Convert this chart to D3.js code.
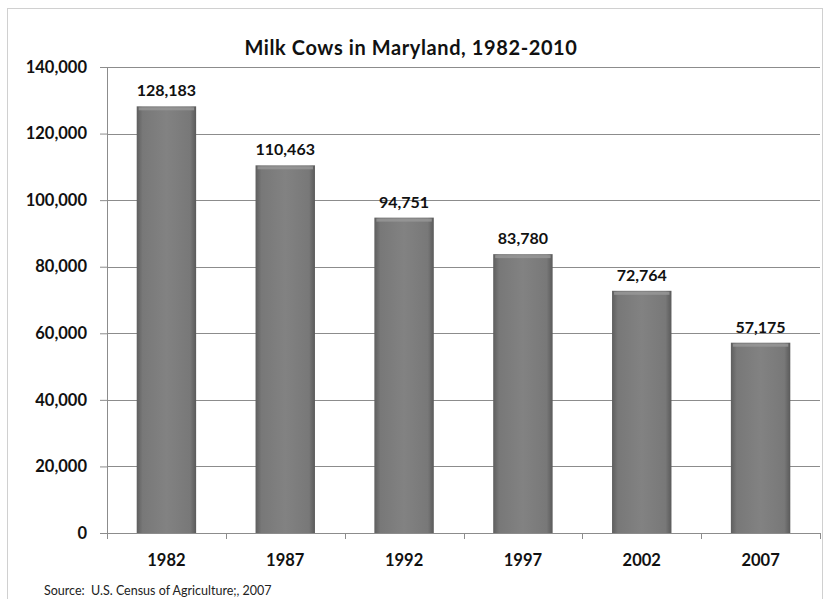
<!DOCTYPE html>
<html>
<head>
<meta charset="utf-8">
<script src="https://cdn.jsdelivr.net/npm/d3@7"></script>
<style>
  body { margin: 0; background: #fff; }
  text { font-family: Lato, "Open Sans", sans-serif; }
</style>
</head>
<body>
<div id="chart"></div>
<script>
const years = ['1982', '1987', '1992', '1997', '2002', '2007'];
const cows = [128183, 110463, 94751, 83780, 72764, 57175];
const yTicks = [0, 20000, 40000, 60000, 80000, 100000, 120000, 140000];

const width = 830, height = 599;
const margin = { top: 67, right: 10, bottom: 66, left: 107 };
const innerW = width - margin.left - margin.right;
const innerH = height - margin.top - margin.bottom;

const svg = d3.select('#chart').append('svg')
  .attr('width', width)
  .attr('height', height);

// outer chart frame
svg.append('rect')
  .attr('x', 7.5).attr('y', 8.5)
  .attr('width', 815).attr('height', 600)
  .attr('fill', 'none')
  .attr('stroke', '#d0d0d0');

const defs = svg.append('defs');
const grad = defs.append('linearGradient').attr('id', 'barGrad')
  .attr('x1', '0%').attr('x2', '100%').attr('y1', '0%').attr('y2', '0%');
grad.append('stop').attr('offset', '0%').attr('stop-color', '#5e5e5e');
grad.append('stop').attr('offset', '10%').attr('stop-color', '#787878');
grad.append('stop').attr('offset', '50%').attr('stop-color', '#828282');
grad.append('stop').attr('offset', '90%').attr('stop-color', '#787878');
grad.append('stop').attr('offset', '100%').attr('stop-color', '#5a5a5a');

const g = svg.append('g')
  .attr('transform', 'translate(' + margin.left + ',' + margin.top + ')');

const x = d3.scaleBand().domain(years).range([0, innerW]).paddingInner(0.5).paddingOuter(0.25);
const xTick = d3.scaleBand().domain(years).range([0, innerW]);
const y = d3.scaleLinear().domain([0, 140000]).range([innerH, 0]);

// gridlines
g.selectAll('.grid')
  .data(yTicks.filter(d => d > 0))
  .enter().append('line')
  .attr('x1', 0).attr('x2', innerW)
  .attr('y1', d => Math.round(y(d)) + 0.5)
  .attr('y2', d => Math.round(y(d)) + 0.5)
  .attr('stroke', '#8c8c8c')
  .attr('stroke-width', 1);

// bars
const bars = g.selectAll('.bar')
  .data(years)
  .enter().append('g');
bars.append('rect')
  .attr('x', d => x(d))
  .attr('y', (d, i) => y(cows[i]))
  .attr('width', x.bandwidth())
  .attr('height', (d, i) => innerH - y(cows[i]))
  .attr('fill', 'url(#barGrad)');
// lighter cap at top of each bar
bars.append('rect')
  .attr('x', d => x(d) + 2)
  .attr('y', (d, i) => y(cows[i]) + 1)
  .attr('width', x.bandwidth() - 4)
  .attr('height', 3)
  .attr('fill', '#999')
  .attr('opacity', 0.8);

// value labels
g.selectAll('.val')
  .data(years)
  .enter().append('text')
  .attr('x', d => x(d) + x.bandwidth() / 2)
  .attr('y', (d, i) => y(cows[i]) - 10)
  .attr('text-anchor', 'middle')
  .attr('font-size', 16)
  .attr('font-weight', 'bold')
  .attr('fill', '#111')
  .text((d, i) => d3.format(',')(cows[i]));

// y axis
const yAxis = g.append('g')
  .call(d3.axisLeft(y).tickValues(yTicks).tickFormat(d3.format(',')).tickSize(7).tickPadding(13));
yAxis.select('.domain').attr('stroke', '#8c8c8c');
yAxis.selectAll('.tick line').attr('stroke', '#8c8c8c');
yAxis.selectAll('.tick text')
  .attr('font-size', 16.5)
  .attr('font-weight', 'bold')
  .attr('fill', '#111');

// x axis
const xAxis = g.append('g')
  .attr('transform', 'translate(0,' + innerH + ')')
  .call(d3.axisBottom(xTick).tickSize(0).tickPadding(21));
xAxis.select('.domain').attr('stroke', '#8c8c8c');
xAxis.selectAll('.tick text')
  .attr('font-size', 16.5)
  .attr('font-weight', 'bold')
  .attr('fill', '#111');
// category separator ticks
g.selectAll('.sep')
  .data(d3.range(years.length + 1))
  .enter().append('line')
  .attr('x1', i => Math.round(i * xTick.step()) + 0.5)
  .attr('x2', i => Math.round(i * xTick.step()) + 0.5)
  .attr('y1', innerH).attr('y2', innerH + 6)
  .attr('stroke', '#8c8c8c');

// title
svg.append('text')
  .attr('x', 411).attr('y', 55)
  .attr('text-anchor', 'middle')
  .attr('font-size', 20)
  .attr('font-weight', 'bold')
  .attr('letter-spacing', 0.6)
  .attr('fill', '#111')
  .text('Milk Cows in Maryland, 1982-2010');

// source
svg.append('text')
  .attr('x', 44).attr('y', 595)
  .attr('font-size', 12.5)
  .attr('fill', '#222')
  .attr('xml:space', 'preserve')
  .text('Source:  U.S. Census of Agriculture;, 2007');
</script>
</body>
</html>
